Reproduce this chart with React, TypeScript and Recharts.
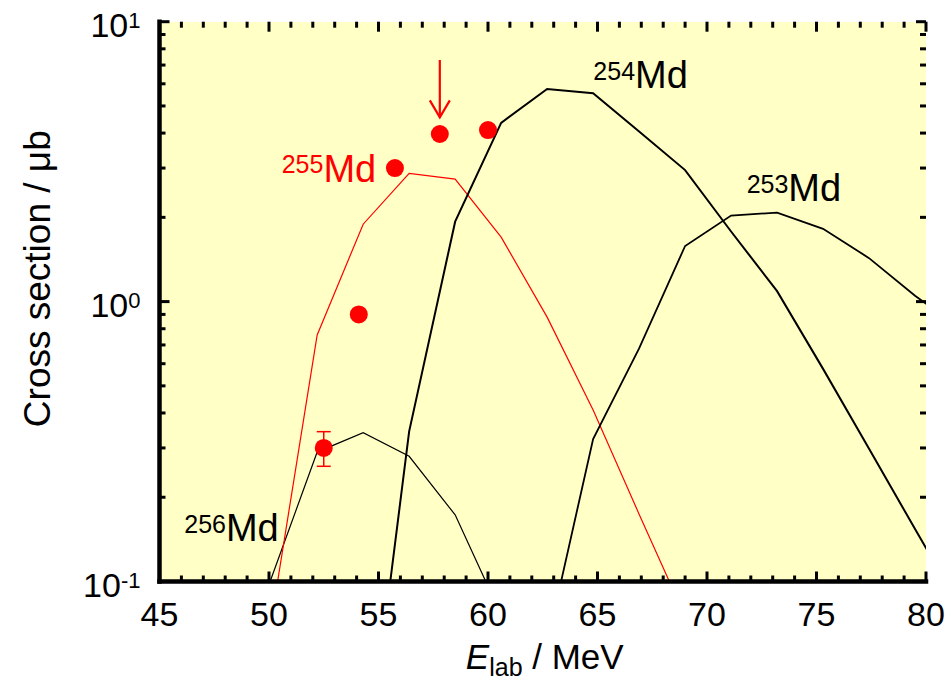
import React from "react";
import {
  ComposedChart,
  Line,
  Scatter,
  XAxis,
  YAxis,
  ErrorBar,
  ReferenceLine,
  ReferenceDot,
} from "recharts";

const FONT = "'Liberation Sans', Arial, Helvetica, sans-serif";
const BG = "#FFFFC6";
const RED = "#FF0000";

// plot box inside the 951x680 picture
const PLOT = { left: 159.5, top: 21.7, right: 926, bottom: 581.5 };
const W = 951;
const H = 680;

// axis ticks
const X_TICKS = Array.from({ length: 36 }, (_, i) => 45 + i);
const Y_TICKS = [0.1, 0.2, 0.3, 0.4, 0.5, 0.6, 0.7, 0.8, 0.9, 1, 2, 3, 4, 5, 6, 7, 8, 9, 10];

// calculated excitation functions (E_lab in MeV, cross section in microbarn)
const E_256 = [50.05, 52.2, 54.3, 56.4, 58.5, 60.6];
const SIG_256 = [0.1, 0.29, 0.34, 0.28, 0.173, 0.076];
const E_255 = [50.1, 52.2, 54.3, 56.4, 58.5, 60.6, 62.7, 64.8, 66.9, 69.0];
const SIG_255 = [0.072, 0.76, 1.89, 2.87, 2.74, 1.7, 0.88, 0.41, 0.174, 0.075];
const E_254 = [54.3, 56.4, 58.5, 60.6, 62.7, 64.8, 66.9, 69.0, 71.1, 73.2, 75.3, 77.4, 79.5, 81.6];
const SIG_254 = [0.017, 0.344, 1.93, 4.35, 5.75, 5.55, 4.05, 2.95, 1.78, 1.09, 0.575, 0.298, 0.154, 0.08];
const E_253 = [62.7, 64.8, 66.9, 69.0, 71.1, 73.2, 75.3, 77.4, 79.5, 81.6];
const SIG_253 = [0.06, 0.323, 0.68, 1.58, 2.03, 2.08, 1.82, 1.43, 1.05, 0.8];

// measured points
const E_EXP = [54.1, 55.75, 57.8, 60.0];
const SIG_EXP = [0.9, 3.0, 3.97, 4.1];
const E_EXP_ERR = [52.5];
const SIG_EXP_ERR = [0.3];
const ERR_LOW = [0.042];
const ERR_HIGH = [0.043];

// annotation positions (data coords)
const ARROW_E = 57.8;
const ARROW_FROM = 7.3;
const ARROW_TO = 4.55;
const LABELS = [
  { mass: "256", e: 46.13, s: 0.139, color: "#000" },
  { mass: "255", e: 50.58, s: 2.68, color: RED },
  { mass: "254", e: 64.81, s: 5.78, color: "#000" },
  { mass: "253", e: 71.81, s: 2.28, color: "#000" },
];

const toPts = (es: number[], ss: number[]) => es.map((e, i) => ({ e, s: ss[i] }));

const d256 = toPts(E_256, SIG_256);
const d255 = toPts(E_255, SIG_255);
const d254 = toPts(E_254, SIG_254);
const d253 = toPts(E_253, SIG_253);
const dExp = toPts(E_EXP, SIG_EXP);
const dExpErr = E_EXP_ERR.map((e, i) => ({ e, s: SIG_EXP_ERR[i], err: [ERR_LOW[i], ERR_HIGH[i]] }));

const isMajorX = (v: number) => v % 5 === 0;
const isMajorY = (v: number) => Math.abs(Math.log10(v) - Math.round(Math.log10(v))) < 1e-6;

// inward tick marks on both ends of a grid line (drawn through ReferenceLine so they sit above the plot)
const vTicks = (len: number) => (p: any) => {
  const top = Math.min(p.y1, p.y2);
  const bot = Math.max(p.y1, p.y2);
  return (
    <g>
      <line x1={p.x1} x2={p.x1} y1={bot} y2={bot - len} stroke="#000" strokeWidth={3} />
      <line x1={p.x1} x2={p.x1} y1={top} y2={top + len} stroke="#000" strokeWidth={3} />
    </g>
  );
};

const hTicks = (len: number) => (p: any) => {
  const l = Math.min(p.x1, p.x2);
  const r = Math.max(p.x1, p.x2);
  return (
    <g>
      <line x1={l} x2={l + len} y1={p.y1} y2={p.y1} stroke="#000" strokeWidth={3} />
      <line x1={r} x2={r - len} y1={p.y1} y2={p.y1} stroke="#000" strokeWidth={3} />
    </g>
  );
};

function BottomTick({ x, y, payload }: any) {
  const v = payload.value;
  if (!isMajorX(v)) return <g />;
  return (
    <text x={x} y={y + 44} textAnchor="middle" fontSize={34} fontFamily={FONT} fill="#000">
      {v}
    </text>
  );
}

function LeftTick({ x, y, payload }: any) {
  const v = payload.value;
  if (!isMajorY(v)) return <g />;
  return (
    <text x={x - 19} y={y + 15.5} textAnchor="end" fontSize={34} fontFamily={FONT} fill="#000">
      <tspan>10</tspan>
      <tspan fontSize={22} dy={-9}>
        {Math.round(Math.log10(v))}
      </tspan>
    </text>
  );
}

function XLabel({ viewBox }: any) {
  const cx = viewBox.x + viewBox.width / 2 + 2;
  const by = viewBox.y + 87;
  return (
    <text x={cx} y={by} textAnchor="middle" fontSize={35} fontFamily={FONT} fill="#000">
      <tspan fontStyle="italic">E</tspan>
      <tspan fontSize={25} dy={7}>
        lab
      </tspan>
      <tspan dy={-7}> / MeV</tspan>
    </text>
  );
}

function YLabel({ viewBox }: any) {
  const bx = viewBox.x + 50;
  const cy = viewBox.y + 257;
  return (
    <text
      transform={`translate(${bx},${cy}) rotate(-90)`}
      textAnchor="middle"
      fontSize={37}
      fontFamily={FONT}
      fill="#000"
    >
      Cross section / μb
    </text>
  );
}

function IsoLabel({ viewBox, mass, color }: any) {
  return (
    <text x={viewBox.x} y={viewBox.y} fontFamily={FONT} fill={color}>
      <tspan fontSize={25} dy={-8.5}>
        {mass}
      </tspan>
      <tspan fontSize={38} dy={8.5}>
        Md
      </tspan>
    </text>
  );
}

function Arrow(p: any) {
  const top = Math.min(p.y1, p.y2);
  const tip = Math.max(p.y1, p.y2);
  const x = p.x1;
  return (
    <g>
      <line x1={x} x2={x} y1={top} y2={tip} stroke={RED} strokeWidth={2.2} />
      <polyline
        points={`${x - 10},${tip - 17} ${x},${tip} ${x + 10},${tip - 17}`}
        fill="none"
        stroke={RED}
        strokeWidth={2.2}
      />
    </g>
  );
}

const dot = (p: any) => <circle cx={p.cx} cy={p.cy} r={9} fill={RED} />;

const frame = { stroke: "#000", strokeWidth: 4.5, strokeLinecap: "square" as const };

export default function App() {
  return (
    <div style={{ position: "absolute", left: 0, top: 0, width: W, height: H, background: "#fff" }}>
      {/* plot background sits behind the transparent svg */}
      <div
        style={{
          position: "absolute",
          left: PLOT.left,
          top: PLOT.top,
          width: PLOT.right - PLOT.left,
          height: PLOT.bottom - PLOT.top,
          background: BG,
        }}
      />
      <div style={{ position: "absolute", left: 0, top: 0 }}>
        <ComposedChart
          width={W}
          height={H}
          margin={{ top: PLOT.top, right: W - PLOT.right, bottom: 0, left: 0 }}
        >
          <XAxis
            xAxisId="b"
            dataKey="e"
            type="number"
            domain={[45, 80]}
            allowDataOverflow
            ticks={X_TICKS}
            interval={0}
            tickSize={0}
            tickMargin={0}
            tickLine={false}
            tick={<BottomTick />}
            axisLine={frame}
            height={H - PLOT.bottom}
            label={<XLabel />}
          />
          <XAxis
            xAxisId="t"
            orientation="top"
            type="number"
            domain={[45, 80]}
            tick={false}
            tickLine={false}
            axisLine={frame}
            height={0}
          />
          <YAxis
            yAxisId="l"
            type="number"
            scale="log"
            domain={[0.1, 10]}
            allowDataOverflow
            ticks={Y_TICKS}
            interval={0}
            tickSize={0}
            tickMargin={0}
            tickLine={false}
            tick={<LeftTick />}
            axisLine={frame}
            width={PLOT.left}
            label={<YLabel />}
          />
          <YAxis
            yAxisId="r"
            orientation="right"
            type="number"
            scale="log"
            domain={[0.1, 10]}
            tick={false}
            tickLine={false}
            axisLine={frame}
            width={0}
          />

          {X_TICKS.map((v) => (
            <ReferenceLine
              key={`xt${v}`}
              xAxisId="b"
              yAxisId="l"
              x={v}
              ifOverflow="visible"
              shape={vTicks(isMajorX(v) ? 10 : 6)}
            />
          ))}
          {Y_TICKS.map((v) => (
            <ReferenceLine
              key={`yt${v}`}
              xAxisId="b"
              yAxisId="l"
              y={v}
              ifOverflow="visible"
              shape={hTicks(isMajorY(v) ? 10 : 6)}
            />
          ))}

          <Line xAxisId="b" yAxisId="l" data={d256} dataKey="s" stroke="#000" strokeWidth={1.2} dot={false} isAnimationActive={false} />
          <Line xAxisId="b" yAxisId="l" data={d255} dataKey="s" stroke={RED} strokeWidth={1.2} dot={false} isAnimationActive={false} />
          <Line xAxisId="b" yAxisId="l" data={d254} dataKey="s" stroke="#000" strokeWidth={2} dot={false} isAnimationActive={false} />
          <Line xAxisId="b" yAxisId="l" data={d253} dataKey="s" stroke="#000" strokeWidth={1.8} dot={false} isAnimationActive={false} />

          <Scatter xAxisId="b" yAxisId="l" data={dExp} dataKey="s" shape={dot} isAnimationActive={false} />
          <Scatter xAxisId="b" yAxisId="l" data={dExpErr} dataKey="s" shape={dot} isAnimationActive={false}>
            <ErrorBar dataKey="err" direction="y" width={7} stroke={RED} strokeWidth={1.5} isAnimationActive={false} />
          </Scatter>

          <ReferenceLine
            xAxisId="b"
            yAxisId="l"
            segment={[
              { x: ARROW_E, y: ARROW_FROM },
              { x: ARROW_E, y: ARROW_TO },
            ]}
            shape={Arrow}
            ifOverflow="visible"
          />

          {LABELS.map((l) => (
            <ReferenceDot
              key={l.mass}
              xAxisId="b"
              yAxisId="l"
              x={l.e}
              y={l.s}
              r={0}
              fill="none"
              stroke="none"
              ifOverflow="visible"
              label={<IsoLabel mass={l.mass} color={l.color} />}
            />
          ))}
        </ComposedChart>
      </div>
    </div>
  );
}
